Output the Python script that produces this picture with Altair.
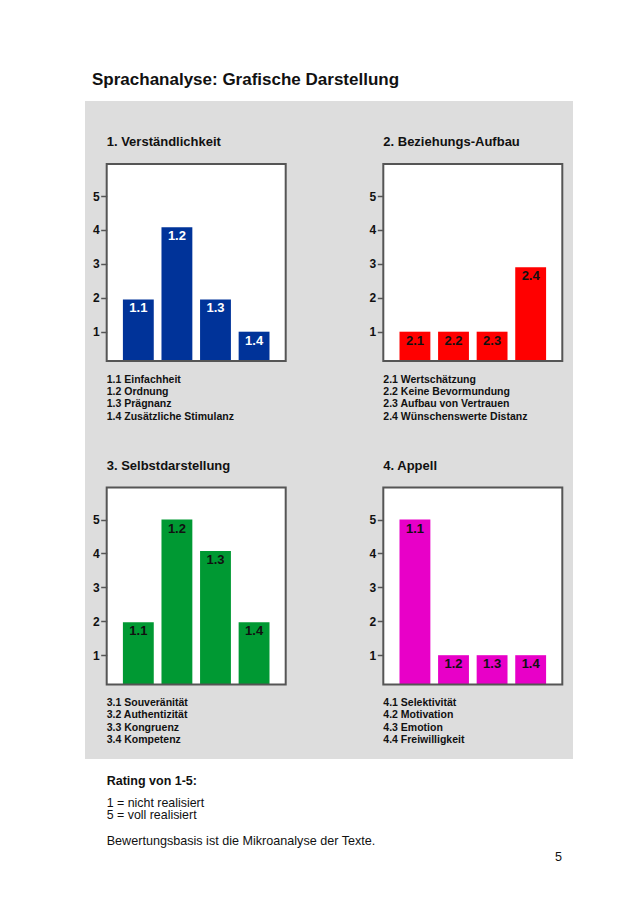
import altair as alt
import pandas as pd

FONT = "Liberation Sans"
O = 8  # page margin

page_title = "Sprachanalyse: Grafische Darstellung"
titles = ["1. Verständlichkeit", "2. Beziehungs-Aufbau", "3. Selbstdarstellung", "4. Appell"]
bar_labels = [
    ["1.1", "1.2", "1.3", "1.4"],
    ["2.1", "2.2", "2.3", "2.4"],
    ["1.1", "1.2", "1.3", "1.4"],
    ["1.1", "1.2", "1.3", "1.4"],
]
values = [
    [1.95, 4.08, 1.95, 1.0],
    [1.0, 1.0, 1.0, 2.9],
    [1.97, 5.0, 4.07, 1.97],
    [5.0, 1.0, 1.0, 1.0],
]
legends = [
    ["1.1 Einfachheit", "1.2 Ordnung", "1.3 Prägnanz", "1.4 Zusätzliche Stimulanz"],
    ["2.1 Wertschätzung", "2.2 Keine Bevormundung", "2.3 Aufbau von Vertrauen", "2.4 Wünschenswerte Distanz"],
    ["3.1 Souveränität", "3.2 Authentizität", "3.3 Kongruenz", "3.4 Kompetenz"],
    ["4.1 Selektivität", "4.2 Motivation", "4.3 Emotion", "4.4 Freiwilligkeit"],
]
y_ticks = [1, 2, 3, 4, 5]
rating_head = "Rating von 1-5:"
rating_lines = ["1 = nicht realisiert", "5 = voll realisiert"]
basis_note = "Bewertungsbasis ist die Mikroanalyse der Texte."
page_number = "5"

colors = ["#003399", "#FF0000", "#009933", "#E800C8"]
label_colors = ["#FFFFFF", "#111111", "#111111", "#111111"]

# layout (page pixel coordinates)
frame_left = [106.7, 383.3, 106.7, 383.3]
frame_top = [164, 164, 487.5, 487.5]
FW, FH = 179, 197

one = pd.DataFrame({"k": [0]})


def txt(s, x, y, size, weight="normal", align="left", color="#111111"):
    return alt.Chart(one).mark_text(
        text=s, align=align, baseline="alphabetic", fontSize=size,
        fontWeight=weight, font=FONT, color=color
    ).encode(x=alt.value(x - O), y=alt.value(y - O))


def lines(items, x, y, size, step, weight="normal"):
    df = pd.DataFrame({"line": items, "row": list(range(len(items)))})
    return alt.Chart(df).mark_text(
        align="left", baseline="alphabetic", fontSize=size, fontWeight=weight,
        font=FONT, color="#111111"
    ).encode(
        x=alt.value(x - O),
        y=alt.Y("row:O", axis=None,
                scale=alt.Scale(type="point", range=[y - O, y - O + step * (len(items) - 1)],
                                padding=0)),
        text="line:N",
    )


def box(x1, y1, x2, y2, **mk):
    return alt.Chart(one).mark_rect(**mk).encode(
        x=alt.value(x1 - O), x2=alt.value(x2 - O),
        y=alt.value(y1 - O), y2=alt.value(y2 - O)
    )


bg = box(85, 101, 573, 759, fill="#DDDDDD")
head = txt(page_title, 92, 85, 17, weight="bold")

panels = []
for i in range(4):
    l, t = frame_left[i], frame_top[i]
    r, b = l + FW, t + FH
    df = pd.DataFrame({"cat": bar_labels[i], "v": values[i]})
    x_enc = alt.X("cat:N", sort=None, axis=None,
                  scale=alt.Scale(range=[l - O, r - O], paddingInner=0.2, paddingOuter=0.42))
    y_axis = alt.Axis(orient="left", offset=-(l - O), values=y_ticks, tickSize=6, tickWidth=1.5,
                      tickColor="#555555", domain=False, grid=False, labelFont=FONT,
                      labelFontSize=12, labelFontWeight="bold", labelColor="#111111",
                      labelPadding=1.5, title=None, zindex=1, format="d")
    y_enc = alt.Y("v:Q", axis=y_axis,
                  scale=alt.Scale(domain=[0.136, 5.945], range=[b - O, t - O], clamp=True,
                                  zero=False, nice=False))
    fill = box(l, t, r, b, fill="white")
    bars = alt.Chart(df).mark_bar(color=colors[i]).encode(x=x_enc, y=y_enc)
    labs = alt.Chart(df).mark_text(baseline="middle", dy=9, fontSize=13, fontWeight="bold",
                                   font=FONT, color=label_colors[i]).encode(
        x=x_enc, y=y_enc, text="cat:N")
    stroke = box(l, t, r, b, fillOpacity=0, stroke="#555555", strokeWidth=2)
    ptitle = txt(titles[i], l, t - 18, 13, weight="bold")
    panels.append(alt.layer(fill, bars, labs, stroke, ptitle))

legend_layers = []
for i in range(4):
    legend_layers.append(lines(legends[i], frame_left[i], frame_top[i] + FH + 21.5, 10.5, 12.4,
                               weight="bold"))

footer = [
    txt(rating_head, 106.7, 784.5, 12.5, weight="bold"),
    lines(rating_lines, 106.7, 806.5, 12.4, 12.8),
    txt(basis_note, 106.7, 844.5, 12.6),
    txt(page_number, 562, 861, 12.6, align="right"),
]

chart = alt.layer(bg, head, *panels, *legend_layers, *footer).resolve_scale(
    x="independent", y="independent"
).properties(
    width=622, height=887, autosize=alt.AutoSizeParams(type="none"), padding=0,
    background="white"
).configure_view(stroke=None)

chart.save("out.html", embed_options={"renderer": "svg", "actions": False})
